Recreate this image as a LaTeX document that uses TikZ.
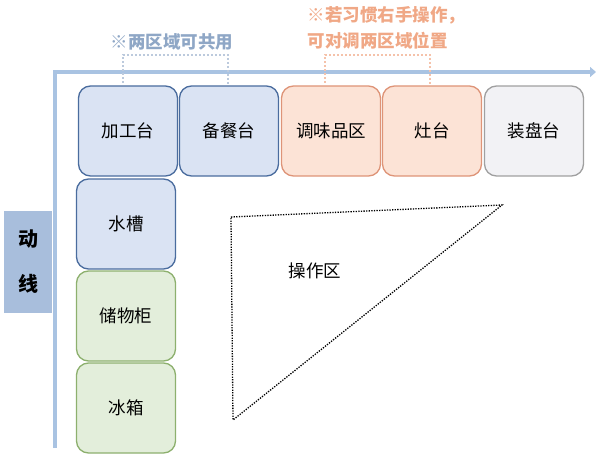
\documentclass[tikz,border=0pt]{standalone}
\usepackage{fontspec}
\setmainfont{Noto Sans CJK SC}
\usetikzlibrary{arrows.meta}
\definecolor{blueFill}{HTML}{DAE3F3}
\definecolor{blueLine}{HTML}{4A6C9E}
\definecolor{orangeFill}{HTML}{FCE3D6}
\definecolor{orangeLine}{HTML}{DE9478}
\definecolor{grayFill}{HTML}{F2F2F5}
\definecolor{grayLine}{HTML}{A0A0A0}
\definecolor{greenFill}{HTML}{E3EEDB}
\definecolor{greenLine}{HTML}{8DB06E}
\definecolor{axisBlue}{HTML}{A9C3E2}
\definecolor{labelBlue}{HTML}{A8BEDC}
\definecolor{noteBlue}{HTML}{8FA7C6}
\definecolor{noteOrange}{HTML}{F0A886}
\tikzset{
  unit/.style={draw, rounded corners=12pt, minimum width=99pt, minimum height=90pt,
    line width=1.3pt, font=\fontsize{17.5}{17.5}\selectfont},
  bluebox/.style={unit, fill=blueFill, draw=blueLine},
  orangebox/.style={unit, fill=orangeFill, draw=orangeLine},
  graybox/.style={unit, fill=grayFill, draw=grayLine},
  greenbox/.style={unit, fill=greenFill, draw=greenLine},
  note/.style={font=\bfseries\fontsize{17.5}{26}\selectfont}
}
\begin{document}
\begin{tikzpicture}[x=1pt,y=-1pt]
     \useasboundingbox (0,0) rectangle (600,460);
     \draw[axisBlue, line width=4pt, -{Triangle[length=6pt,width=10pt]}] (55,448) -- (55,72) -- (596,72);
     
     \node[fill=labelBlue, minimum width=48pt, minimum height=102pt, align=center,
       font=\bfseries\fontsize{20}{45}\selectfont] (dongxian) at (28,262) {动\\线};
     
     \node[bluebox] (jiagong) at (128,131) {加工台};
     \node[bluebox] (beican) at (229,131) {备餐台};
     \node[orangebox] (tiaowei) at (331,131) {调味品区};
     \node[orangebox] (zaotai) at (432,131) {灶台};
     \node[graybox] (zhuangpan) at (534,131) {装盘台};
     \node[bluebox] (shuicao) at (126,224) {水槽};
     \node[greenbox] (chuwu) at (126,316) {储物柜};
     \node[greenbox] (bingxiang) at (126,408) {冰箱};
     
     \draw[line width=1.3pt, dash pattern=on 1.3pt off 1.3pt] (231,217) -- (502,205) -- (233,420) -- cycle;
     \node[font=\fontsize{17.5}{17.5}\selectfont] (caozuo) at (315,271) {操作区};
     
     \node[note, text=noteBlue] (gongyong) at (172,42) {※两区域可共用};
     \draw[noteBlue!60, dotted, line width=2pt] (123,83) -- (123,55) -- (228,55) -- (228,85);
     
     \node[note, text=noteOrange, align=left, anchor=west] (duitiao) at (304,28) {※若习惯右手操作，\\可对调两区域位置};
     \draw[noteOrange!70, dotted, line width=2pt] (325,83) -- (325,55) -- (430,55) -- (430,85);
\end{tikzpicture}
\end{document}
